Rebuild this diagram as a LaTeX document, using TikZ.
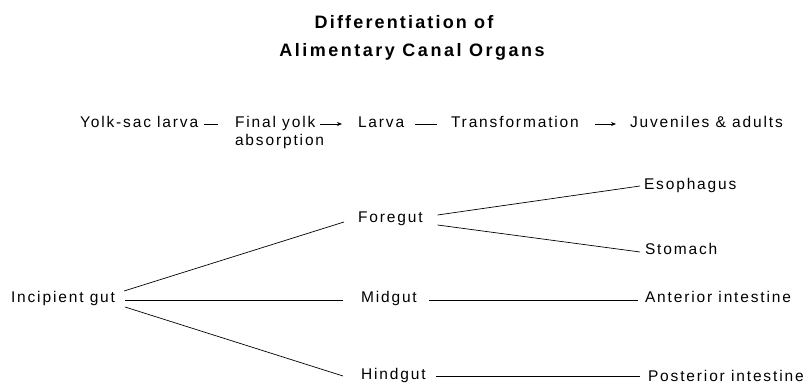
\documentclass[tikz,border=0pt]{standalone}
\usepackage{fontspec}
\usetikzlibrary{arrows.meta,calc}
\newfontfamily\bodyfont[LetterSpace=12]{Liberation Sans}
\newfontfamily\titlefont[LetterSpace=12]{Liberation Sans Bold}
\newfontfamily\titlefontb[LetterSpace=14]{Liberation Sans Bold}
\begin{document}
\begin{tikzpicture}[x=1pt,y=1pt,
  lbl/.style={inner sep=0pt,outer sep=0pt,anchor=base west,text height=11pt,text depth=3pt,
    font=\bodyfont\fontsize{15.5}{18}\selectfont},
  ttl/.style={inner sep=0pt,outer sep=0pt,anchor=base,
    font=\titlefont\fontsize{18}{21}\selectfont},
  ln/.style={line width=0.7pt},
  arr/.style={line width=0.7pt,-{Stealth[length=5pt,width=4pt]}}]
\useasboundingbox[fill=white] (0,0) rectangle (805,385);
% title
\node[ttl] (t1) at (404,356.5) {Differentiation of};
\node[ttl,font=\titlefontb\fontsize{18}{21}\selectfont] (t2) at (412,328.5) {Alimentary Canal Organs};
% top row
\node[lbl] (yolk) at (80,257) {Yolk-sac larva};
\node[lbl] (fy) at (235,257) {Final yolk};
\node[lbl] (abs) at (235,239) {absorption};
\node[lbl] (larva) at (358,257) {Larva};
\node[lbl] (trans) at (451,257) {Transformation};
\node[lbl] (juv) at (630,257) {Juveniles \& adults};
\draw[ln,shorten <=6pt,shorten >=17pt] (yolk.east) -- (fy.west);
\draw[arr,shorten <=5pt,shorten >=16pt] (fy.east) -- (larva.west);
\draw[ln,shorten <=11pt,shorten >=14pt] (larva.east) -- (trans.west);
\draw[arr,shorten <=16pt,shorten >=14pt] (trans.east) -- (juv.west);
% tree
\node[lbl] (inc) at (11,82) {Incipient gut};
\node[lbl] (fore) at (358,162) {Foregut};
\node[lbl] (mid) at (361,82) {Midgut};
\node[lbl] (hind) at (361,5) {Hindgut};
\node[lbl] (eso) at (644,195) {Esophagus};
\node[lbl] (sto) at (645,130) {Stomach};
\node[lbl] (ant) at (645,82) {Anterior intestine};
\node[lbl] (post) at (648,3) {Posterior intestine};
\draw[ln] ($(inc.east)+(9,8)$) -- ($(fore.west)+(-14,-3)$);
\draw[ln] ($(inc.east)+(10,-1)$) -- ($(mid.west)+(-18,-1)$);
\draw[ln] ($(inc.east)+(10,-8)$) -- ($(hind.west)+(-18,0)$);
\draw[ln] ($(fore.east)+(15,4)$) -- ($(eso.west)+(-4,0)$);
\draw[ln] ($(fore.east)+(15,-6)$) -- ($(sto.west)+(-5,-1)$);
\draw[ln] ($(mid.east)+(12,-1)$) -- ($(ant.west)+(-7,-1)$);
\draw[ln] ($(hind.east)+(10,0)$) -- ($(post.west)+(-8,2)$);
\end{tikzpicture}
\end{document}
